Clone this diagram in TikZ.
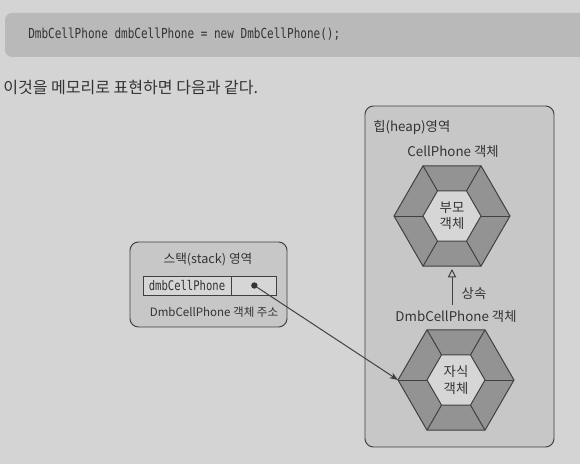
\documentclass[tikz,border=0pt]{standalone}
\usepackage{fontspec}
\setmainfont{Noto Sans CJK KR}
\newfontfamily\codefont[FakeStretch=0.8]{DejaVu Sans Mono}
\usetikzlibrary{arrows.meta}

\definecolor{page}{HTML}{D4D4D4}
\definecolor{codebg}{HTML}{B9B9B9}
\definecolor{areafill}{HTML}{C7C7C7}
\definecolor{ringfill}{HTML}{939393}
\definecolor{corefill}{HTML}{D6D6D6}
\definecolor{edge}{HTML}{404040}
\definecolor{ink}{HTML}{333333}

\begin{document}
\begin{tikzpicture}[x=0.025cm, y=-0.025cm,
    every node/.style={text=ink, font=\fontsize{9.5}{11.5}\selectfont},
    area/.style={draw=edge, fill=areafill, rounded corners=6pt, line width=0.7pt},
    cell/.style={draw=edge, fill=corefill, inner sep=0pt, minimum height=0.475cm, line width=0.6pt}]
  \fill[page] (0,0) rectangle (580,464);
  \useasboundingbox (0,0) rectangle (580,464);

  % code line and sentence
  \fill[codebg, rounded corners=5pt] (5,13) rectangle (590,57);
  \node[anchor=west, inner sep=0pt, font=\codefont\fontsize{9.8}{11}\selectfont] (code) at (28,34) {DmbCellPhone dmbCellPhone = new DmbCellPhone();};
  \node[anchor=west, inner sep=0pt, font=\fontsize{11.4}{13}\selectfont] (intro) at (3,88) {이것을 메모리로 표현하면 다음과 같다.};

  % heap
  \draw[area] (365,106) rectangle (554,447);
  \node[anchor=west, inner sep=0pt] (heap) at (373,127) {힙(heap)영역};
  \node (parentlbl) at (453,152) {CellPhone 객체};
  \node (childlbl) at (456,316) {DmbCellPhone 객체};
  \node (inherit) at (474,293) {상속};

  \foreach \cx/\cy/\name/\txt in {452/216/parent/부모, 456/380/child/자식} {
    \begin{scope}[shift={(\cx,\cy)}]
      \draw[edge, fill=ringfill, line width=0.7pt] (0:58) \foreach \a in {60,120,...,300} { -- (\a:58) } -- cycle;
      \draw[edge, fill=corefill, line width=0.7pt] (0:29) \foreach \a in {60,120,...,300} { -- (\a:29) } -- cycle;
      \foreach \a in {0,60,...,300}
        \draw[edge, line width=0.7pt] (\a:29) -- (\a:58);
      \node[align=center, inner sep=0pt] (\name core) at (0,0) {\txt\\객체};
      \coordinate (\name W) at (180:58);
      \coordinate (\name S) at (0,50.2);
    \end{scope}
  }

  % stack
  \draw[area] (130,242) rectangle (287,327);
  \node[font=\fontsize{9}{11}\selectfont] (stack) at (208,260) {스택(stack) 영역};
  \node[cell, minimum width=2.2cm, font=\codefont\fontsize{9.4}{11}\selectfont] (var) at (187,285.5) {dmbCellPhone};
  \node[cell, minimum width=1.125cm, anchor=west] (ref) at (var.east) {};
  \node[circle, fill=ink, inner sep=1.6pt] (dot) at (ref.center) {};
  \node[font=\fontsize{8.2}{10}\selectfont] (addr) at (214,312) {DmbCellPhone 객체 주소};

  \draw[-{Stealth[length=6pt, width=4.5pt]}, edge, line width=0.7pt] (dot) -- (childW);
  \draw[-{Triangle[open, length=6pt, width=6pt]}, edge, line width=0.7pt, shorten >=2pt] (parentS |- childlbl.north) -- (parentS);
\end{tikzpicture}
\end{document}
